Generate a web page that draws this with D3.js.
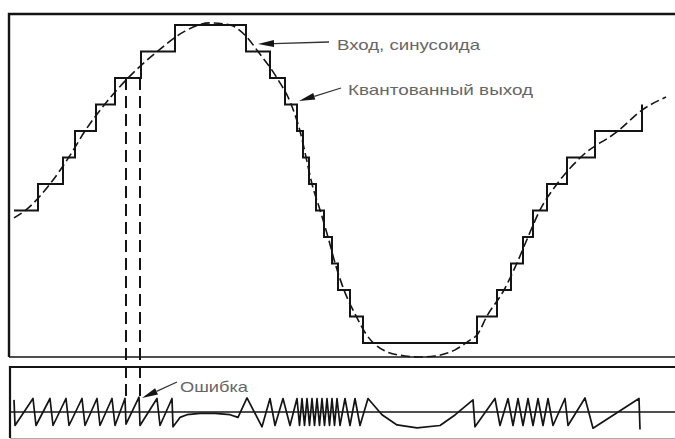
<!DOCTYPE html>
<html>
<head>
<meta charset="utf-8">
<script src="https://cdn.jsdelivr.net/npm/d3@7"></script>
<style>
  body { margin: 0; background: #fff; }
  svg { display: block; }
</style>
</head>
<body>
<div id="chart"></div>
<script>
const width = 675;
const height = 439;

// input sine (sample index, value in quantization steps)
const sineT = [0, 12, 36, 55, 71, 91, 114, 144, 171, 196, 216, 232, 244, 263, 277, 286, 292, 298, 306, 314, 321, 330, 342, 352, 371, 391, 406, 421, 441, 456, 463, 473, 490, 503, 514, 526, 543, 567, 604, 628, 652];
const sineV = [-1.28, -0.98, 0, 1.02, 2.0, 3.02, 4.0, 5.02, 5.77, 6.08, 6.0, 5.58, 5.0, 4.0, 3.02, 2.0, 1.02, 0, -0.98, -2.0, -2.98, -4.0, -4.98, -5.66, -6.3, -6.49, -6.53, -6.49, -6.26, -5.89, -5.7, -4.98, -4.0, -2.98, -2.0, -0.98, 0, 1.02, 2.0, 2.79, 3.28];

// quantized output: sample where each level begins
const stepT = [0, 24, 49, 61, 82, 101, 127, 161, 232, 256, 271, 283, 289, 295, 302, 310, 318, 324, 336, 349, 463, 483, 497, 509, 519, 533, 553, 581, 628];
const stepLevel = [-1, 0, 1, 2, 3, 4, 5, 6, 5, 4, 3, 2, 1, 0, -1, -2, -3, -4, -5, -6, -5, -4, -3, -2, -1, 0, 1, 2, 3];

// quantization error trace
const errT = [0, 1, 19, 22, 36, 39, 52, 55, 68, 71, 83, 86, 98, 101, 111, 112, 125, 126, 143, 146, 158, 159, 166, 173, 186, 201, 216, 224, 233, 248, 256, 261, 269, 276, 283, 285.5, 288, 290.5, 293, 295.5, 298, 300.5, 303, 305.5, 308, 310.5, 313, 315.5, 318, 320.5, 323, 326, 331, 336, 341, 346, 354, 368, 383, 403, 426, 441, 459, 461, 481, 486, 494, 499, 504, 509, 514, 519, 524, 529, 534, 539, 551, 554, 571, 579, 625, 626];
const errV = [0.45, -0.5, 0.5, -0.5, 0.5, -0.5, 0.5, -0.5, 0.5, -0.5, 0.5, -0.5, 0.5, -0.5, 0.5, -0.45, 0.55, -0.5, 0.5, -0.5, 0.5, -0.55, -0.2, -0.1, -0.05, -0.05, -0.1, -0.2, 0.52, -0.55, 0.5, -0.5, 0.5, -0.5, 0.5, -0.5, 0.5, -0.5, 0.5, -0.5, 0.5, -0.5, 0.5, -0.5, 0.5, -0.5, 0.5, -0.5, 0.5, -0.5, 0.5, -0.5, 0.5, -0.5, 0.5, -0.5, 0.5, -0.1, -0.48, -0.59, -0.5, -0.11, 0.45, -0.55, 0.5, -0.5, 0.5, -0.5, 0.5, -0.5, 0.5, -0.5, 0.5, -0.5, 0.5, -0.5, 0.5, -0.5, 0.52, -0.6, 0.5, -0.65];

// the interval marked by the two dashed verticals
const markT = [112, 126];

const labels = ["Вход, синусоида", "Квантованный выход", "Ошибка"];

const svg = d3.select("#chart")
    .append("svg")
    .attr("width", width)
    .attr("height", height)
    .style("font-family", "'Liberation Sans', Arial, sans-serif");

svg.append("rect").attr("width", width).attr("height", height).attr("fill", "#fff");

const x = d3.scaleLinear().domain([0, 652]).range([14, 666]);
const y = d3.scaleLinear().domain([-6, 6]).range([343, 25]);
const ye = d3.scaleLinear().domain([-0.5, 0.5]).range([425.5, 398.5]);

const ink = "#141414";

// panel frames
const frame = svg.append("g").attr("stroke", ink).attr("fill", "none");
frame.append("path").attr("d", "M9,357V14H676").attr("stroke-width", 2.4);
frame.append("path").attr("d", "M9,357H676").attr("stroke-width", 1.6);
frame.append("path").attr("d", "M10,438V367H676").attr("stroke-width", 2.2);
frame.append("path").attr("d", "M10,438.5H676").attr("stroke-width", 1).attr("stroke", "#aaa");

// zero line of the error panel
svg.append("line")
    .attr("x1", 10).attr("x2", 676)
    .attr("y1", ye(0)).attr("y2", ye(0))
    .attr("stroke", ink).attr("stroke-width", 1.4);

// input sine, dashed
const sinePts = sineT.map((t, i) => [t, sineV[i]]);
svg.append("path")
    .datum(sinePts)
    .attr("fill", "none")
    .attr("stroke", ink)
    .attr("stroke-width", 1.6)
    .attr("stroke-dasharray", "9,4")
    .attr("d", d3.line().x(d => x(d[0])).y(d => y(d[1])).curve(d3.curveMonotoneX));

// quantized staircase
const stepPts = stepT.map((t, i) => [t, stepLevel[i]]);
svg.append("path")
    .datum(stepPts)
    .attr("fill", "none")
    .attr("stroke", ink)
    .attr("stroke-width", 2)
    .attr("d", d3.line().x(d => x(d[0])).y(d => y(d[1])).curve(d3.curveStepAfter));

// error trace
const errPts = errT.map((t, i) => [t, errV[i]]);
svg.append("path")
    .datum(errPts)
    .attr("fill", "none")
    .attr("stroke", ink)
    .attr("stroke-width", 1.7)
    .attr("stroke-linejoin", "round")
    .attr("d", d3.line().x(d => x(d[0])).y(d => ye(d[1])));

// dashed verticals
svg.selectAll("line.mark")
    .data(markT)
    .join("line")
    .attr("class", "mark")
    .attr("x1", d => x(d)).attr("x2", d => x(d))
    .attr("y1", y(4)).attr("y2", ye(0.38))
    .attr("stroke", ink)
    .attr("stroke-width", 2)
    .attr("stroke-dasharray", "12,6");

// leaders with arrowheads: [tipX, tipY, endX, endY]
const leaders = [
    [258, 44, 329, 42],
    [299, 101, 341, 88],
    [142, 398, 177, 382]
];
leaders.forEach(l => {
    const [x0, y0, x1, y1] = l;
    const ang = Math.atan2(y1 - y0, x1 - x0);
    const len = 16, half = 3.5;
    const bx = x0 + Math.cos(ang) * len, by = y0 + Math.sin(ang) * len;
    const nx = -Math.sin(ang) * half, ny = Math.cos(ang) * half;
    svg.append("path")
        .attr("d", `M${x0},${y0}L${bx + nx},${by + ny}L${bx - nx},${by - ny}Z`)
        .attr("fill", ink);
    svg.append("line")
        .attr("x1", bx).attr("y1", by).attr("x2", x1).attr("y2", y1)
        .attr("stroke", "#333").attr("stroke-width", 1.3);
});

// labels
const labelPos = [[337, 50, 143], [348, 95, 185], [180, 392, 68]];
svg.selectAll("text.lbl")
    .data(labels)
    .join("text")
    .attr("class", "lbl")
    .attr("x", (d, i) => labelPos[i][0])
    .attr("y", (d, i) => labelPos[i][1])
    .attr("textLength", (d, i) => labelPos[i][2])
    .attr("lengthAdjust", "spacingAndGlyphs")
    .attr("font-size", 15)
    .attr("fill", "#666")
    .text(d => d);
</script>
</body>
</html>
